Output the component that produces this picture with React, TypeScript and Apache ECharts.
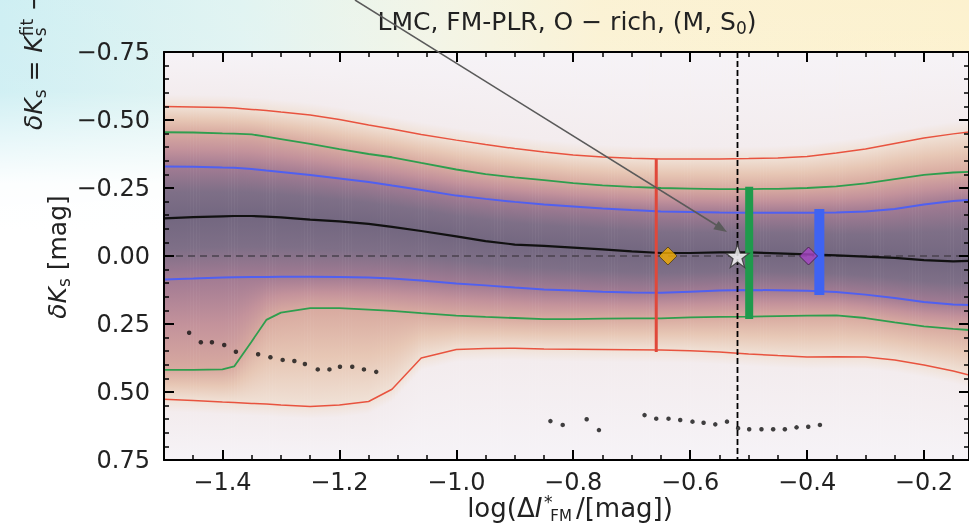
import React, { useEffect, useRef } from 'react';
import * as echarts from 'echarts';

// ---------- data ----------
const xs = [-1.5, -1.45, -1.4, -1.38, -1.35, -1.325, -1.3, -1.25, -1.2, -1.15, -1.11, -1.06, -1.0, -0.95, -0.9, -0.85, -0.8, -0.75, -0.7, -0.65, -0.6, -0.55, -0.5, -0.45, -0.4, -0.35, -0.3, -0.25, -0.2, -0.15, -0.123];
const redUpper = [-0.55, -0.548, -0.546, -0.544, -0.539, -0.535, -0.529, -0.518, -0.502, -0.482, -0.467, -0.447, -0.426, -0.41, -0.395, -0.382, -0.371, -0.364, -0.359, -0.357, -0.357, -0.357, -0.358, -0.36, -0.366, -0.379, -0.393, -0.414, -0.434, -0.449, -0.456];
const greenUpper = [-0.455, -0.454, -0.451, -0.45, -0.447, -0.439, -0.43, -0.412, -0.393, -0.375, -0.363, -0.342, -0.318, -0.301, -0.289, -0.279, -0.268, -0.26, -0.254, -0.25, -0.248, -0.246, -0.246, -0.247, -0.25, -0.256, -0.267, -0.283, -0.298, -0.307, -0.309];
const blueUpper = [-0.329, -0.328, -0.325, -0.324, -0.32, -0.314, -0.309, -0.298, -0.285, -0.272, -0.259, -0.243, -0.222, -0.21, -0.199, -0.189, -0.182, -0.175, -0.169, -0.164, -0.162, -0.16, -0.159, -0.159, -0.159, -0.16, -0.164, -0.173, -0.189, -0.202, -0.206];
const median = [-0.138, -0.143, -0.146, -0.147, -0.147, -0.145, -0.142, -0.134, -0.127, -0.118, -0.107, -0.092, -0.072, -0.055, -0.042, -0.037, -0.031, -0.024, -0.017, -0.011, -0.011, -0.013, -0.013, -0.01, -0.006, -0.002, 0.002, 0.007, 0.015, 0.02, 0.018];
const blueLower = [0.086, 0.083, 0.079, 0.078, 0.077, 0.077, 0.076, 0.076, 0.077, 0.079, 0.083, 0.09, 0.101, 0.108, 0.116, 0.123, 0.127, 0.131, 0.134, 0.135, 0.131, 0.127, 0.125, 0.126, 0.128, 0.132, 0.142, 0.154, 0.169, 0.178, 0.18];
const greenLower = [0.419, 0.419, 0.417, 0.406, 0.314, 0.235, 0.208, 0.192, 0.192, 0.197, 0.202, 0.21, 0.219, 0.224, 0.228, 0.232, 0.232, 0.23, 0.229, 0.229, 0.226, 0.224, 0.223, 0.221, 0.219, 0.218, 0.228, 0.244, 0.259, 0.268, 0.272];
const redLower = [0.527, 0.531, 0.537, 0.539, 0.542, 0.544, 0.548, 0.553, 0.548, 0.535, 0.49, 0.375, 0.344, 0.34, 0.339, 0.342, 0.343, 0.344, 0.345, 0.346, 0.348, 0.353, 0.36, 0.366, 0.371, 0.37, 0.371, 0.382, 0.401, 0.423, 0.438];

const dotsX = [-1.457, -1.437, -1.418, -1.397, -1.377, -1.339, -1.318, -1.297, -1.277, -1.259, -1.237, -1.217, -1.199, -1.178, -1.158, -1.137, -0.839, -0.818, -0.777, -0.756, -0.678, -0.658, -0.637, -0.617, -0.596, -0.577, -0.557, -0.537, -0.518, -0.499, -0.478, -0.458, -0.438, -0.418, -0.398, -0.378];
const dotsY = [0.282, 0.317, 0.317, 0.327, 0.352, 0.361, 0.372, 0.382, 0.386, 0.397, 0.417, 0.417, 0.407, 0.407, 0.417, 0.426, 0.607, 0.621, 0.6, 0.64, 0.585, 0.598, 0.598, 0.603, 0.609, 0.613, 0.619, 0.609, 0.633, 0.637, 0.637, 0.637, 0.637, 0.63, 0.628, 0.621];

const barX = [-0.658, -0.499, -0.379];
const barLo = [-0.357, -0.255, -0.173];
const barHi = [0.353, 0.232, 0.143];
const barColors = ['#e0483a', '#1f9a4c', '#3f63f2'];
const barWidths = [3, 8, 10];

const markerX = [-0.638, -0.519, -0.3975];
const markerY = [0, 0, 0];

const REF_X = -0.519;
const REF_Y = 0;

const X_MIN = -1.5;
const X_MAX = -0.123;
const xMajor = [-1.4, -1.2, -1.0, -0.8, -0.6, -0.4, -0.2];

const FONT = 'DejaVu Sans';

const fmt = (v: number, d: number) => (v < -1e-9 ? '\u2212' : '') + Math.abs(v).toFixed(d);

// heat-map colours at the percentile levels
const C_FAR = '#f6f3f7';
const C_FAR2 = '#f3ecee';
const C_R = '#f0e1d6';
const C_RG = '#e7c7b5';
const C_G = '#d8aaa0';
const C_GB = '#c3929b';
const C_B = '#a27b93';
const C_BM = '#7e6f87';
const C_M = '#736780';

function buildStops(o: number[]) {
  const [ru, gu, bu, m, bl, gl, rl] = o;
  const list: [number, string][] = [
    [0, C_FAR],
    [ru - 0.03, C_FAR2],
    [ru, C_R],
    [(ru + gu) / 2, C_RG],
    [gu, C_G],
    [(gu + bu) / 2, C_GB],
    [bu, C_B],
    [(bu + m) / 2, C_BM],
    [m, C_M],
    [(m + bl) / 2, C_BM],
    [bl, C_B],
    [(bl + gl) / 2, C_GB],
    [gl, C_G],
    [(gl + rl) / 2, C_RG],
    [rl, C_R],
    [rl + 0.03, C_FAR2],
    [1, C_FAR],
  ];
  let prev = 0;
  return list.map(([off, c]) => {
    const v = Math.min(1, Math.max(prev, off));
    prev = v;
    return { offset: v, color: c };
  });
}

const levels = [redUpper, greenUpper, blueUpper, median, blueLower, greenLower, redLower];

export default function App() {
  const ref = useRef<HTMLDivElement>(null);
  useEffect(() => {
    if (!ref.current) return;
    const chart = echarts.init(ref.current, undefined, { renderer: 'svg' });

    const renderItem = (params: any, api: any) => {
      const i = params.dataIndex;
      const cs = params.coordSys;
      const top = cs.y;
      const h = cs.height;
      const xa = api.coord([xs[i], 0])[0];
      const xb = api.coord([xs[i + 1], 0])[0];
      const K = Math.max(1, Math.ceil((xb - xa) / 3));
      const children: any[] = [];
      for (let k = 0; k < K; k++) {
        const t = (k + 0.5) / K;
        const offs = levels.map((arr) => {
          const v = arr[i] + (arr[i + 1] - arr[i]) * t;
          return (api.coord([xs[i], v])[1] - top) / h;
        });
        children.push({
          type: 'rect',
          shape: { x: xa + ((xb - xa) * k) / K, y: top, width: (xb - xa) / K + 0.6, height: h },
          style: { fill: { type: 'linear', x: 0, y: 0, x2: 0, y2: 1, colorStops: buildStops(offs) } },
          silent: true,
        });
      }
      return { type: 'group', children };
    };

    const lineSeries = (data: number[], color: string, width: number, z: number) => ({
      type: 'line',
      data: xs.map((x, i) => [x, data[i]]),
      showSymbol: false,
      symbol: 'none',
      lineStyle: { color, width },
      z,
      silent: true,
    });

    const makeXAxis = (position: string, major: boolean, labels: boolean) => ({
      type: 'value',
      position,
      min: X_MIN,
      max: X_MAX,
      interval: 0.05,
      z: 10,
      axisLine: { show: major, onZero: false, lineStyle: { color: '#000', width: 2 } },
      axisTick: major
        ? { show: true, inside: true, length: 10, customValues: xMajor, lineStyle: { color: '#000', width: 2 } }
        : { show: true, inside: true, length: 5, lineStyle: { color: '#000', width: 1.5 } },
      axisLabel: labels
        ? { show: true, customValues: xMajor, formatter: (v: number) => fmt(v, 1), fontSize: 24, color: '#222', fontFamily: FONT, margin: 10 }
        : { show: false },
      splitLine: { show: false },
    });

    const makeYAxis = (position: string, labels: boolean) => ({
      type: 'value',
      position,
      inverse: true,
      min: -0.75,
      max: 0.75,
      interval: 0.25,
      z: 10,
      axisLine: { show: true, onZero: false, lineStyle: { color: '#000', width: 2 } },
      axisTick: { show: true, inside: true, length: 10, lineStyle: { color: '#000', width: 2 } },
      minorTick: { show: true, splitNumber: 5, length: 5, lineStyle: { color: '#000', width: 1.5 } },
      axisLabel: labels
        ? { show: true, formatter: (v: number) => fmt(v, 2), fontSize: 24, color: '#222', fontFamily: FONT, margin: 14 }
        : { show: false },
      splitLine: { show: false },
      minorSplitLine: { show: false },
    });

    const starPath = 'path://M50,0 L61.8,35.1 L98.9,35.1 L68.9,56.9 L80.3,92.1 L50,70.4 L19.7,92.1 L31.1,56.9 L1.1,35.1 L38.2,35.1 Z';

    const option: any = {
      animation: false,
      grid: { left: 164, top: 52, width: 806, height: 408, containLabel: false },
      xAxis: [
        makeXAxis('bottom', true, true),
        makeXAxis('bottom', false, false),
        makeXAxis('top', true, false),
        makeXAxis('top', false, false),
      ],
      yAxis: [makeYAxis('left', true), makeYAxis('right', false)],
      graphic: [
        { type: 'rect', z: 0, silent: true, shape: { x: 0, y: 0, width: 969, height: 527 }, style: { fill: '#ffffff' } },
        {
          type: 'rect', z: 0, silent: true, shape: { x: 0, y: 0, width: 969, height: 230 },
          style: {
            fill: {
              type: 'linear', x: 0, y: 0, x2: 1, y2: 0,
              colorStops: [
                { offset: 0, color: '#c6ecf1' },
                { offset: 0.25, color: '#dcf2f0' },
                { offset: 0.45, color: '#f1f3e2' },
                { offset: 0.62, color: '#faf0cd' },
                { offset: 1, color: '#fcefc6' },
              ],
            },
          },
        },
        {
          type: 'rect', z: 0, silent: true, shape: { x: 0, y: 0, width: 969, height: 230 },
          style: {
            fill: {
              type: 'linear', x: 0, y: 0, x2: 0, y2: 1,
              colorStops: [
                { offset: 0, color: 'rgba(255,255,255,0.15)' },
                { offset: 0.4, color: 'rgba(255,255,255,0.2)' },
                { offset: 0.8, color: 'rgba(255,255,255,0.95)' },
                { offset: 1, color: 'rgba(255,255,255,1)' },
              ],
            },
          },
        },
        {
          type: 'text', z: 100, silent: true, x: 567, y: 21,
          style: {
            text: 'LMC, FM-PLR, O \u2212 rich, (M, S{sub|0})',
            fontSize: 25, fontFamily: FONT, fill: '#222', align: 'center', verticalAlign: 'middle', lineHeight: 30,
            rich: { sub: { fontSize: 17, fontFamily: FONT, fill: '#222', verticalAlign: 'bottom', lineHeight: 17 } },
          },
        },
        {
          type: 'text', z: 100, silent: true, x: 570, y: 508,
          style: {
            text: 'log(\u0394{it|I}{sup|*}{sub|FM}{n|/[mag])}',
            fontSize: 26, fontFamily: FONT, fill: '#222', align: 'center', verticalAlign: 'middle', lineHeight: 30,
            rich: {
              it: { fontSize: 26, fontFamily: FONT, fontStyle: 'italic', fill: '#222', lineHeight: 30 },
              sup: { fontSize: 17, fontFamily: FONT, fill: '#222', verticalAlign: 'top', lineHeight: 12, width: 0, align: 'left', padding: [0, 0, 0, 6] },
              sub: { fontSize: 15, fontFamily: FONT, fill: '#222', verticalAlign: 'bottom', lineHeight: 12, padding: [0, 0, 0, 2] },
              n: { fontSize: 26, fontFamily: FONT, fill: '#222', lineHeight: 30, padding: [0, 0, 0, 4] },
            },
          },
        },
        {
          type: 'text', z: 100, silent: true, x: 57, y: 257, rotation: Math.PI / 2,
          style: {
            text: '{it|\u03B4K}{sub|s} [mag]',
            fontSize: 25, fontFamily: FONT, fill: '#222', align: 'center', verticalAlign: 'middle', lineHeight: 30,
            rich: {
              it: { fontSize: 25, fontFamily: FONT, fontStyle: 'italic', fill: '#222', lineHeight: 30 },
              sub: { fontSize: 17, fontFamily: FONT, fill: '#222', verticalAlign: 'bottom', lineHeight: 17 },
            },
          },
        },
        {
          type: 'text', z: 100, silent: true, x: 33, y: 130, rotation: Math.PI / 2,
          style: {
            text: '{it|\u03B4K}{sub|s} = {it|K}{sub0|s}{sup|fit} \u2212',
            fontSize: 25, fontFamily: FONT, fill: '#222', align: 'left', verticalAlign: 'middle', lineHeight: 30,
            rich: {
              it: { fontSize: 25, fontFamily: FONT, fontStyle: 'italic', fill: '#222', lineHeight: 30 },
              sub: { fontSize: 17, fontFamily: FONT, fill: '#222', verticalAlign: 'bottom', lineHeight: 17 },
              sub0: { fontSize: 17, fontFamily: FONT, fill: '#222', verticalAlign: 'bottom', lineHeight: 17, width: 0, align: 'left' },
              sup: { fontSize: 17, fontFamily: FONT, fill: '#222', verticalAlign: 'top', lineHeight: 17 },
            },
          },
        },
        {
          type: 'line', z: 100, silent: true,
          shape: { x1: 355, y1: 0, x2: 717, y2: 225.5 },
          style: { stroke: '#5a5a5a', lineWidth: 1.5 },
        },
        {
          type: 'polygon', z: 100, silent: true,
          shape: { points: [[727, 232], [713.3, 229.3], [718.6, 220.9]] },
          style: { fill: '#5a5a5a' },
        },
      ],
      series: [
        {
          type: 'custom',
          xAxisIndex: 0,
          yAxisIndex: 0,
          renderItem,
          data: xs.slice(0, -1).map((x, i) => [x, 0, i]),
          z: 1,
          silent: true,
        },
        {
          type: 'line',
          data: [[X_MIN, REF_Y], [X_MAX, REF_Y]],
          symbol: 'none',
          lineStyle: { color: '#4a424e', width: 1.5, type: [7, 5] },
          z: 2,
          silent: true,
        },
        lineSeries(redUpper, '#e8533f', 1.5, 3),
        lineSeries(redLower, '#e8533f', 1.5, 3),
        lineSeries(greenUpper, '#2e9e4e', 1.8, 3),
        lineSeries(greenLower, '#2e9e4e', 1.8, 3),
        lineSeries(blueUpper, '#5060f0', 2, 3),
        lineSeries(blueLower, '#5060f0', 2, 3),
        lineSeries(median, '#111111', 2.2, 3),
        ...barX.map((bx, i) => ({
          type: 'line',
          data: [[bx, barLo[i]], [bx, barHi[i]]],
          symbol: 'none',
          lineStyle: { color: barColors[i], width: barWidths[i], cap: 'butt' },
          z: 4,
          silent: true,
        })),
        {
          type: 'line',
          data: [[REF_X, -0.75], [REF_X, 0.75]],
          symbol: 'none',
          lineStyle: { color: '#000', width: 1.8, type: [6, 3] },
          z: 5,
          silent: true,
        },
        {
          type: 'scatter',
          data: dotsX.map((x, i) => [x, dotsY[i]]),
          symbol: 'circle',
          symbolSize: 4.5,
          itemStyle: { color: '#111' },
          z: 5,
          silent: true,
        },
        {
          type: 'scatter',
          data: [
            { value: [markerX[0], markerY[0]], symbol: 'diamond', symbolSize: 18, itemStyle: { color: '#f4ad00', borderColor: '#4a3a10', borderWidth: 1 } },
            { value: [markerX[1], markerY[1]], symbol: starPath, symbolSize: 23, itemStyle: { color: '#ffffff', borderColor: '#333', borderWidth: 1.2 } },
            { value: [markerX[2], markerY[2]], symbol: 'diamond', symbolSize: 18, itemStyle: { color: '#a845c5', borderColor: '#3a1a40', borderWidth: 1 } },
          ],
          z: 6,
          silent: true,
        },
      ],
    };

    chart.setOption(option);
    return () => chart.dispose();
  }, []);

  return <div ref={ref} style={{ position: 'fixed', left: 0, top: 0, width: 969, height: 527 }} />;
}
